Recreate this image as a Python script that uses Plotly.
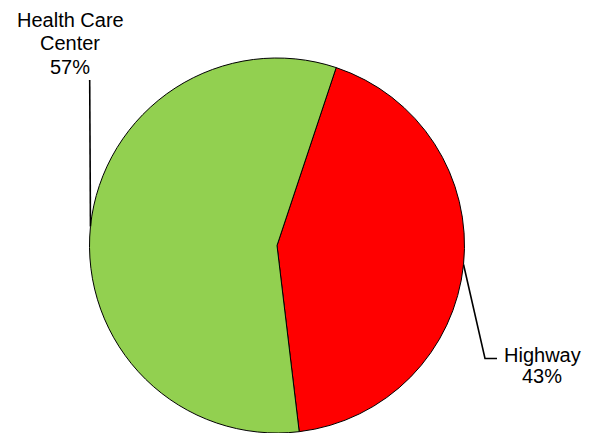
import math
import plotly.graph_objects as go

# ---- data ----
labels = ["Highway", "Health Care Center"]
values = [43, 57]
colors = ["#FF0000", "#92D050"]
label_lines = [["Highway", "43%"], ["Health Care", "Center", "57%"]]

# ---- layout (pixels) ----
W, H = 598, 433
cx, cy, R = 277.0, 245.5, 187.5
start_deg = 18.4  # clockwise from 12 o'clock

def px(x):
    return x / W

def py(y):
    return 1 - y / H

fig = go.Figure(go.Pie(
    labels=labels, values=values, sort=False, direction="clockwise",
    rotation=start_deg,
    marker=dict(colors=colors, line=dict(color="black", width=1)),
    textinfo="none", hoverinfo="label+percent", showlegend=False,
    domain=dict(x=[px(cx - R), px(cx + R)], y=[py(cy + R), py(cy - R)]),
))

# mid-angles of slices, from data
total = sum(values)
mids = []
acc = start_deg
for v in values:
    ang = v / total * 360
    mids.append(acc + ang / 2)
    acc += ang

def on_circle(deg):
    r = math.radians(deg)
    return cx + R * math.sin(r), cy - R * math.cos(r)

# label line positions (layout) and leader-line elbows
label_x = [542, 70]
label_ys = [[355, 375.5], [20.5, 43.5, 67.5]]
elbows = [[(485, 358.5), (497, 358.5)], [(89.7, 80)]]

shapes = []
annotations = []
for i in range(len(values)):
    sx, sy = on_circle(mids[i])
    pts = [(sx, sy)] + elbows[i]
    path = "M " + " L ".join(f"{px(x)},{py(y)}" for x, y in pts)
    shapes.append(dict(type="path", path=path, xref="paper", yref="paper",
                       line=dict(color="black", width=1.6)))
    for txt, ly in zip(label_lines[i], label_ys[i]):
        annotations.append(dict(x=px(label_x[i]), y=py(ly), xref="paper", yref="paper",
                                text=txt, showarrow=False,
                                xanchor="center", yanchor="middle",
                                font=dict(family="Liberation Sans, Arial", size=20, color="black")))

fig.update_layout(
    width=W, height=H, margin=dict(l=0, r=0, t=0, b=0),
    paper_bgcolor="white", plot_bgcolor="white",
    shapes=shapes, annotations=annotations,
)
fig.write_html("out.html")
